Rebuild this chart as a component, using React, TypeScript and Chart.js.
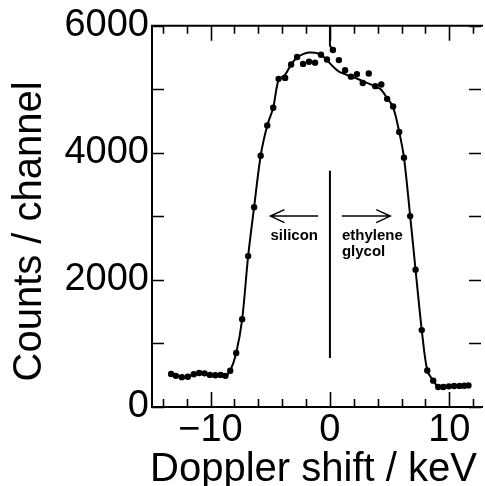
import { useEffect, useRef } from "react";
import { Chart, registerables } from "chart.js";

Chart.register(...registerables);

// Measured spectrum: Doppler shift (keV) and counts per channel
const shiftKeV = [
  -13.3, -12.9, -12.4, -11.9, -11.4, -10.95, -10.5, -10.05, -9.6, -9.15, -8.75, -8.35,
  -7.85, -7.35, -6.85, -6.35, -5.8, -5.25, -4.75, -4.3, -3.75, -3.25, -2.75, -2.25,
  -1.75, -1.25, -0.75, -0.25, 0.25, 0.75, 1.27, 1.76, 2.26, 2.75, 3.25, 3.8, 4.3,
  4.79, 5.29, 5.8, 6.2, 6.72, 7.17, 7.69, 8.15, 8.65, 9.07, 9.5, 9.95, 10.4, 10.85,
  11.25, 11.6,
];
const counts = [
  520, 490, 470, 475, 515, 535, 530, 505, 500, 505, 490, 570,
  850, 1380, 2375, 3145, 3955, 4430, 4710, 5165, 5180, 5390, 5510, 5400,
  5435, 5420, 5545, 5470, 5620, 5460, 5300, 5200, 5240, 5100, 5250, 5050, 5075,
  4850, 4730, 4330, 3925, 3005, 2160, 1210, 575, 415, 315, 315, 325, 330, 332,
  335, 340,
];

// Fitted profile
const fitShiftKeV = [
  -13.3, -12.9, -12.4, -11.9, -11.4, -10.95, -10.5, -10.05, -9.6, -9.15, -8.75, -8.35,
  -7.85, -7.35, -6.85, -6.35, -5.8, -5.25, -4.75, -4.3, -3.75, -3.25, -2.75, -2.25,
  -1.75, -1.25, -0.75, -0.25, 0.25, 0.75, 1.25, 1.75, 2.25, 2.75, 3.25, 3.75, 4.25,
  4.79, 5.29, 5.8, 6.2, 6.72, 7.17, 7.69, 8.15, 8.65, 9.07, 9.5, 9.95, 10.4, 10.85,
  11.25, 11.6,
];
const fitCounts = [
  520, 490, 470, 475, 515, 535, 530, 505, 500, 505, 490, 570,
  850, 1380, 2375, 3145, 3955, 4430, 4710, 5150, 5230, 5390, 5500, 5555,
  5580, 5575, 5545, 5460, 5360, 5280, 5240, 5200, 5170, 5130, 5090, 5050, 5000,
  4860, 4720, 4330, 3925, 3005, 2160, 1210, 575, 415, 315, 315, 325, 330, 332,
  335, 340,
];

// Axis ranges and ticks
const xRange = [-14.9, 12.65];
const yRange = [0, 6000];
const xTickLabels = [-10, 0, 10];
const xMinorTicks = [-14, -12, -8, -6, -4, -2, 2, 4, 6, 8, 12];
const yTickLabels = [0, 2000, 4000, 6000];
const yMinorTicks = [1000, 3000, 5000];

// Zero-shift marker and the short stub from the top frame
const markerX = [0, 0];
const markerY = [770, 3720];
const stubX = [0, 0, 0.2];
const stubY = [6000, 5690, 5625];

// Direction arrows and their labels (keV, counts)
const arrowY = 3005;
const leftArrowX = [-1.0, -4.98];
const rightArrowX = [1.0, 5.05];
const siliconLabel = { text: "silicon", x: -4.98, y: 2700 };
const glycolLabels = [
  { text: "ethylene", x: 1.0, y: 2700 },
  { text: "glycol", x: 1.0, y: 2440 },
];

const FONT = '"Liberation Sans", Arial, Helvetica, sans-serif';

const framePlugin = {
  id: "frameAndNotes",
  afterDatasetsDraw(chart: any) {
    const { ctx, chartArea } = chart;
    const xs = chart.scales.x;
    const ys = chart.scales.y;
    const { left, right, top, bottom } = chartArea;
    ctx.save();
    ctx.strokeStyle = "#000";
    ctx.fillStyle = "#000";
    ctx.lineCap = "butt";

    // frame
    ctx.lineWidth = 2;
    ctx.beginPath();
    ctx.moveTo(right + 2, top);
    ctx.lineTo(left, top);
    ctx.lineTo(left, bottom);
    ctx.lineTo(right + 2, bottom);
    ctx.stroke();

    // inward ticks
    ctx.lineWidth = 1.6;
    ctx.beginPath();
    const xTick = (v: number, len: number) => {
      const px = Math.round(xs.getPixelForValue(v)) + 0.5;
      ctx.moveTo(px, bottom);
      ctx.lineTo(px, bottom - len);
      ctx.moveTo(px, top);
      ctx.lineTo(px, top + len);
    };
    xTickLabels.forEach((v) => xTick(v, 15));
    xMinorTicks.forEach((v) => xTick(v, 8));
    [...yTickLabels, ...yMinorTicks].forEach((v) => {
      const py = Math.round(ys.getPixelForValue(v)) + 0.5;
      ctx.moveTo(left, py);
      ctx.lineTo(left + 12, py);
      ctx.moveTo(right, py);
      ctx.lineTo(right - 12, py);
    });
    ctx.stroke();

    // arrows
    const drawArrow = (xv: number[], yv: number) => {
      const x0 = xs.getPixelForValue(xv[0]);
      const x1 = xs.getPixelForValue(xv[1]);
      const y = ys.getPixelForValue(yv);
      const dir = Math.sign(x1 - x0);
      ctx.lineWidth = 1.5;
      ctx.beginPath();
      ctx.moveTo(x0, y);
      ctx.lineTo(x1, y);
      ctx.moveTo(x1 - dir * 14, y - 6.5);
      ctx.lineTo(x1, y);
      ctx.lineTo(x1 - dir * 14, y + 6.5);
      ctx.stroke();
    };
    drawArrow(leftArrowX, arrowY);
    drawArrow(rightArrowX, arrowY);

    // arrow labels
    ctx.font = `bold 15px ${FONT}`;
    ctx.textAlign = "left";
    ctx.textBaseline = "middle";
    [siliconLabel, ...glycolLabels].forEach((l) => {
      ctx.fillText(l.text, xs.getPixelForValue(l.x), ys.getPixelForValue(l.y));
    });

    // axis titles
    ctx.font = `40px ${FONT}`;
    ctx.textAlign = "center";
    ctx.textBaseline = "middle";
    ctx.fillText("Doppler shift / keV", (left + right) / 2 - 3, bottom + 63);
    ctx.save();
    ctx.translate(30, (top + bottom) / 2 + 15);
    ctx.rotate(-Math.PI / 2);
    ctx.fillText("Counts / channel", 0, 0);
    ctx.restore();

    ctx.restore();
  },
};

export default function App() {
  const ref = useRef<HTMLCanvasElement>(null);

  useEffect(() => {
    const canvas = ref.current;
    if (!canvas) return;
    const tickFont = { family: FONT, size: 38 };
    const chart = new Chart(canvas, {
      type: "scatter",
      data: {
        datasets: [
          {
            label: "fit",
            data: fitShiftKeV.map((x, i) => ({ x, y: fitCounts[i] })),
            showLine: true,
            borderColor: "#000",
            borderWidth: 2,
            pointRadius: 0,
            tension: 0.3,
          },
          {
            label: "counts",
            data: shiftKeV.map((x, i) => ({ x, y: counts[i] })),
            showLine: false,
            pointRadius: 3.2,
            pointBackgroundColor: "#000",
            pointBorderWidth: 0,
          },
          {
            label: "zero",
            data: markerX.map((x, i) => ({ x, y: markerY[i] })),
            showLine: true,
            borderColor: "#000",
            borderWidth: 2,
            pointRadius: 0,
          },
          {
            label: "stub",
            data: stubX.map((x, i) => ({ x, y: stubY[i] })),
            showLine: true,
            borderColor: "#000",
            borderWidth: 2,
            pointRadius: 0,
            tension: 0,
          },
        ],
      },
      options: {
        responsive: false,
        animation: false,
        devicePixelRatio: 1,
        layout: { padding: { top: 25, right: 0, left: 0, bottom: 0 } },
        plugins: { legend: { display: false }, tooltip: { enabled: false } },
        scales: {
          x: {
            type: "linear",
            min: xRange[0],
            max: xRange[1],
            grid: { display: false, drawTicks: false },
            border: { display: false },
            afterBuildTicks: (s: any) => {
              s.ticks = xTickLabels.map((value) => ({ value }));
            },
            afterFit: (s: any) => {
              s.height = 79;
            },
            ticks: {
              font: tickFont,
              color: "#000",
              padding: 1,
              maxRotation: 0,
              autoSkip: false,
              callback: (v: any) => (v < 0 ? "\u2212" + Math.abs(v) : String(v)),
            },
          },
          y: {
            type: "linear",
            min: yRange[0],
            max: yRange[1],
            grid: { display: false, drawTicks: false },
            border: { display: false },
            afterBuildTicks: (s: any) => {
              s.ticks = yTickLabels.map((value) => ({ value }));
            },
            afterFit: (s: any) => {
              s.width = 152;
            },
            ticks: {
              font: tickFont,
              color: "#000",
              padding: 3,
              autoSkip: false,
              callback: (v: any) => String(v),
            },
          },
        },
      },
      plugins: [framePlugin],
    } as any);
    return () => chart.destroy();
  }, []);

  return (
    <div style={{ position: "fixed", left: 0, top: 0, width: 485, height: 486, background: "#fff", overflow: "hidden" }}>
      <canvas ref={ref} width={485} height={486} style={{ display: "block" }} />
    </div>
  );
}
